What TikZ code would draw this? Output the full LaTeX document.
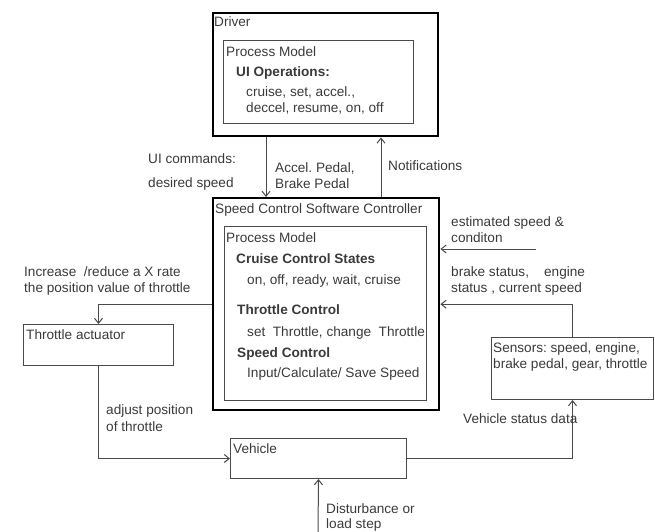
\documentclass[tikz,border=0pt]{standalone}
\usepackage{fontspec}
\setmainfont{Liberation Sans}
\usetikzlibrary{arrows.meta,calc}
\definecolor{ink}{HTML}{3A3A3A}
\definecolor{wire}{HTML}{4A4A4A}
\frenchspacing
\begin{document}
\begin{tikzpicture}[x=1pt,y=-1pt,
  font=\fontsize{13.6}{16}\selectfont,
  txt/.style={anchor=base west,inner sep=0pt,text=ink},
  bold/.style={txt,font=\fontsize{13.6}{16}\selectfont\bfseries},
  thickbox/.style={draw=black,line width=2.4pt,inner sep=0pt,anchor=north west},
  thinbox/.style={draw=wire,line width=1pt,inner sep=0pt,anchor=north west},
  arr/.style={draw=wire,line width=1pt,-{Straight Barb[length=5pt,width=8pt]}}]
\useasboundingbox (0,0) rectangle (655,532);

% boxes
\node[thickbox,minimum width=225pt,minimum height=123pt] (driver) at (212,12) {};
\node[thinbox,minimum width=190pt,minimum height=83pt] (drvpm) at (223,40) {};
\node[thickbox,minimum width=226pt,minimum height=212pt] (ctrl) at (212,197) {};
\node[thinbox,minimum width=202pt,minimum height=174pt] (ctrlpm) at (224,226) {};
\node[thinbox,minimum width=150pt,minimum height=41pt] (thr) at (23,324) {};
\node[thinbox,minimum width=162pt,minimum height=62pt] (sens) at (491,337) {};
\node[thinbox,minimum width=176pt,minimum height=40pt] (veh) at (230,438) {};

% driver contents
\node[txt] (tdrv) at (214,27) {Driver};
\node[txt] (tdpm) at (226,57) {Process Model};
\node[bold] (tuiop) at (236,77) {UI Operations:};
\node[txt] (tui1) at (246,97) {cruise, set, accel.,};
\node[txt] (tui2) at (246,113) {deccel, resume, on, off};

% controller contents
\node[txt] (tctrl) at (215,213) {Speed Control Software Controller};
\node[txt] (tcpm) at (226,242) {Process Model};
\node[bold] (tccs) at (236,263) {Cruise Control States};
\node[txt] (tccs1) at (247,284) {on, off, ready, wait, cruise};
\node[bold] (ttc) at (237,314) {Throttle Control};
\node[txt] (ttc1) at (247,336) {set\ \ Throttle, change\ \ Throttle};
\node[bold] (tsc) at (237,357) {Speed Control};
\node[txt] (tsc1) at (247,377) {Input/Calculate/ Save Speed};

% other box titles
\node[txt] (tthr) at (26,339) {Throttle actuator};
\node[txt] (tsens1) at (493,352) {Sensors: speed, engine,};
\node[txt] (tsens2) at (493,368) {brake pedal, gear, throttle};
\node[txt] (tveh) at (233,453) {Vehicle};

% connectors
\draw[arr] ($(driver.south west)+(54,0)$) -- ($(ctrl.north west)+(54,0)$);
\draw[arr] ($(ctrl.north west)+(169,0)$) -- ($(driver.south west)+(169,0)$);
\draw[arr] (ctrl.west) -| (thr.north);
\draw[arr] (thr.south) |- (veh.west);
\draw[arr] (veh.east) -| (sens.south);
\draw[arr] (sens.north) |- (ctrl.east);
\coordinate (est) at (536,249);
\draw[arr] (est) -- (ctrl.east |- est);
\coordinate (dist) at (318,532);
\draw[arr] (dist) -- (veh.south);

% connector labels
\node[txt] (lui1) at (148,163) {UI commands:};
\node[txt] (lui2) at (148,187) {desired speed};
\node[txt] (lped1) at (275,172) {Accel. Pedal,};
\node[txt] (lped2) at (275,188) {Brake Pedal};
\node[txt] (lnot) at (388,170) {Notifications};
\node[txt] (linc1) at (24,276) {Increase\ \ /reduce a X rate};
\node[txt] (linc2) at (24,292) {the position value of throttle};
\node[txt] (lest1) at (451,226) {estimated speed \&};
\node[txt] (lest2) at (451,242) {conditon};
\node[txt] (lbrk1) at (451,276) {brake status,\ \ \ \ engine};
\node[txt] (lbrk2) at (451,292) {status , current speed};
\node[txt] (ladj1) at (106,414) {adjust position};
\node[txt] (ladj2) at (106,431) {of throttle};
\node[txt] (lvsd) at (463,423) {Vehicle status data};
\node[txt] (ldis1) at (326,513) {Disturbance or};
\node[txt] (ldis2) at (326,528) {load step};
\end{tikzpicture}
\end{document}
